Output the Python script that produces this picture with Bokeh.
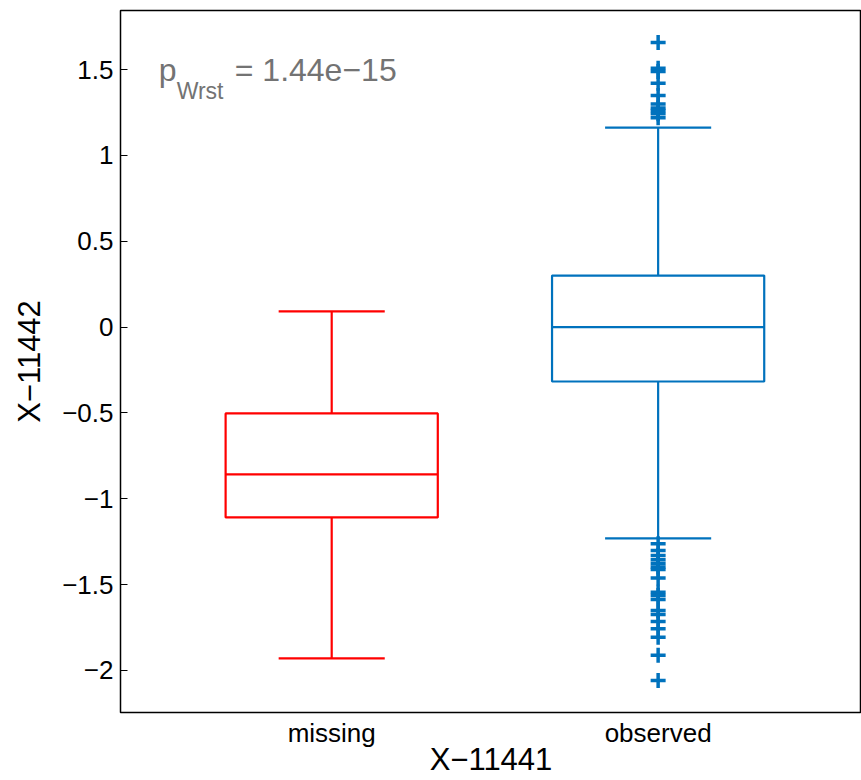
from bokeh.plotting import figure
from bokeh.models import FixedTicker, Label, ColumnDataSource
from bokeh.embed import file_html
from bokeh.resources import INLINE

# ---- data ----
categories = ["missing", "observed"]
positions = [1, 2]
colors = ["#ff0000", "#0072bd"]
lower_whisker = [-1.93, -1.231]
q1 = [-1.109, -0.317]
median = [-0.858, 0.0]
q3 = [-0.503, 0.30]
upper_whisker = [0.091, 1.162]

obs_outliers = [1.657, 1.508, 1.489, 1.420, 1.349, 1.300, 1.276, 1.261, 1.243, 1.220,
                -1.262, -1.301, -1.330, -1.355, -1.377, -1.398, -1.412, -1.462,
                -1.544, -1.563, -1.587, -1.651, -1.674, -1.715, -1.757, -1.806,
                -1.912, -2.058]
y_ticks = [-2, -1.5, -1, -0.5, 0, 0.5, 1, 1.5]
y_tick_labels = ["\u22122", "\u22121.5", "\u22121", "\u22120.5", "0", "0.5", "1", "1.5"]
x_label = "X\u221211441"
y_label = "X\u221211442"
p_text_main = "p"
p_text_sub = "Wrst"
p_text_value = "= 1.44e\u221215"

box_w = 0.65
cap_w = 0.325

FONT = "Liberation Sans"

p = figure(width=861, height=780, output_backend="svg", toolbar_location=None,
           x_range=(0.353, 2.623), y_range=(-2.245, 1.844),
           min_border_left=120, min_border_top=10, min_border_right=0, min_border_bottom=68)
p.xgrid.visible = False
p.ygrid.visible = False
p.outline_line_color = "black"
p.outline_line_width = 1.5
p.background_fill_color = "white"
p.border_fill_color = "white"

src = ColumnDataSource(dict(
    x=positions, lw=lower_whisker, q1=q1, med=median, q3=q3, uw=upper_whisker,
    color=colors,
    left=[x - box_w / 2 for x in positions], right=[x + box_w / 2 for x in positions],
    cl=[x - cap_w / 2 for x in positions], cr=[x + cap_w / 2 for x in positions],
))

# whiskers
p.segment(x0="x", y0="q3", x1="x", y1="uw", source=src, line_color="color", line_width=2.2)
p.segment(x0="x", y0="q1", x1="x", y1="lw", source=src, line_color="color", line_width=2.2)
# caps
p.segment(x0="cl", y0="uw", x1="cr", y1="uw", source=src, line_color="color", line_width=2.2)
p.segment(x0="cl", y0="lw", x1="cr", y1="lw", source=src, line_color="color", line_width=2.2)
# boxes
p.quad(left="left", right="right", bottom="q1", top="q3", source=src,
       fill_color=None, line_color="color", line_width=2.2)
# medians
p.segment(x0="left", y0="med", x1="right", y1="med", source=src, line_color="color", line_width=2.2)

# outliers
p.scatter(x=[positions[1]] * len(obs_outliers), y=obs_outliers, marker="cross",
          size=15, line_color=colors[1], line_width=3.5)

# axes
p.yaxis.ticker = FixedTicker(ticks=y_ticks)
p.yaxis.major_label_overrides = {t: l for t, l in zip(y_ticks, y_tick_labels)}
p.xaxis.ticker = FixedTicker(ticks=positions)
p.xaxis.major_label_overrides = {x: c for x, c in zip(positions, categories)}
for ax in (p.xaxis[0], p.yaxis[0]):
    ax.axis_line_color = None
    ax.minor_tick_line_color = None
    ax.major_tick_line_color = "black"
    ax.major_tick_line_width = 1
    ax.major_tick_out = 0
    ax.major_label_text_font = FONT
    ax.major_label_text_font_size = "26px"
    ax.major_label_text_color = "black"
    ax.axis_label_text_font = FONT
    ax.axis_label_text_font_size = "31px"
    ax.axis_label_text_font_style = "normal"
    ax.axis_label_text_color = "black"
p.yaxis.major_tick_in = 7
p.xaxis.major_tick_in = 0
p.yaxis.major_label_standoff = 7
p.xaxis.major_label_standoff = 5
p.xaxis.axis_label = x_label
p.yaxis.axis_label = y_label
p.yaxis.axis_label_standoff = 12
p.xaxis.axis_label_standoff = -9

# annotation
gray = "#737373"
p.add_layout(Label(x=0.470, y=1.392, text=p_text_main, text_font=FONT,
                   text_font_size="32px", text_color=gray))
p.add_layout(Label(x=0.525, y=1.302, text=p_text_sub, text_font=FONT,
                   text_font_size="23px", text_color=gray))
p.add_layout(Label(x=0.703, y=1.392, text=p_text_value, text_font=FONT,
                   text_font_size="32px", text_color=gray))

open("out.html", "w").write(file_html(p, INLINE))
